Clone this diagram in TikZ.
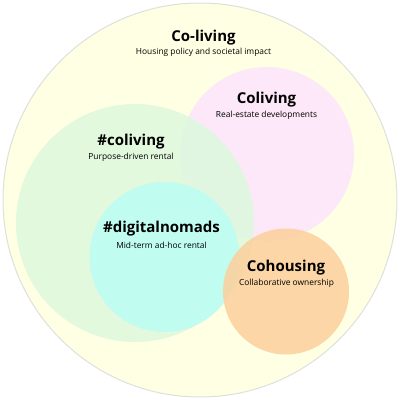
\documentclass[tikz,border=0pt]{standalone}
\usepackage{fontspec}
\setmainfont{Open Sans}
\definecolor{colyellow}{HTML}{FFFFE4}
\definecolor{colpink}{HTML}{FCE8F8}
\definecolor{colgreen}{HTML}{DDF9DD}
\definecolor{colcyan}{HTML}{C0FCF0}
\definecolor{colorange}{HTML}{FCCF9C}
\tikzset{
  title/.style={font=\bfseries\fontsize{15}{17}\selectfont, inner sep=0pt},
  sub/.style={font=\fontsize{8.4}{10}\selectfont, inner sep=0pt}
}
\begin{document}
\begin{tikzpicture}[x=1pt, y=-1pt]
    \useasboundingbox (0,0) rectangle (400,400);

    %cercles
    \draw[fill=colyellow, draw=gray!25, line width=1pt] (200,200) circle (197pt);
    \fill[colpink] (267,154) circle (87pt);
    \fill[colgreen, opacity=0.85] (135,223) circle (119pt);
    \fill[colcyan] (164.5,257) circle (75pt);
    \fill[colorange, opacity=0.85] (286,291.5) circle (63pt);

    %textes
    \node[title] (coliving) at (203.5,38) {Co-living};
    \node[sub] (coliving sub) at (203.5,52) {Housing policy and societal impact};

    \node[title] (realestate) at (266.5,100) {Coliving};
    \node[sub] (realestate sub) at (266.5,115) {Real-estate developments};

    \node[title] (hashcoliving) at (131,142) {\#coliving};
    \node[sub] (hashcoliving sub) at (131,157) {Purpose-driven rental};

    \node[title] (nomads) at (161.5,229) {\#digitalnomads};
    \node[sub] (nomads sub) at (161.5,245) {Mid-term ad-hoc rental};

    \node[title] (cohousing) at (286,268) {Cohousing};
    \node[sub] (cohousing sub) at (286.5,283) {Collaborative ownership};
  \end{tikzpicture}
\end{document}
